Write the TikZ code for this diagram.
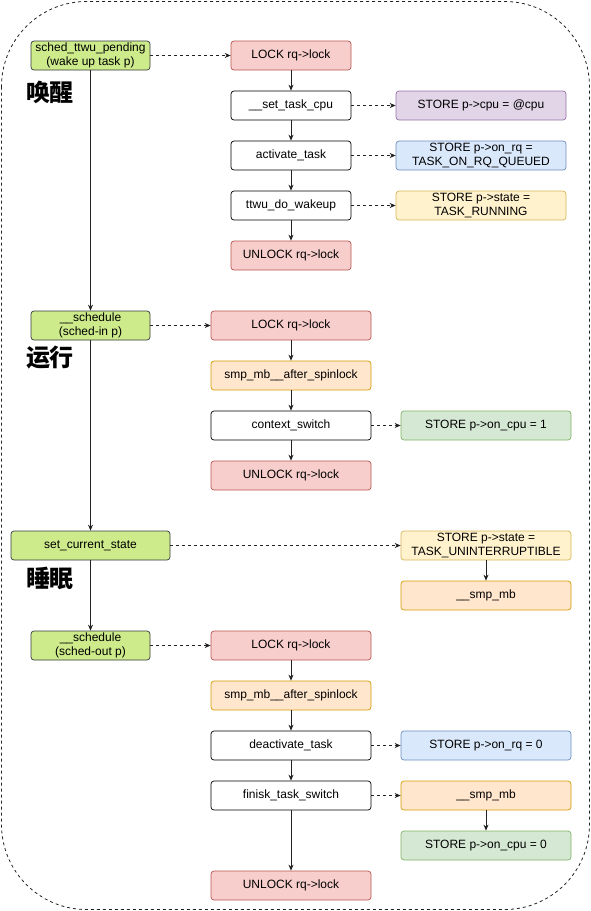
\documentclass[tikz,border=0pt]{standalone}
\usepackage{fontspec}
\setmainfont{Liberation Sans}
\newfontfamily\cjk{Noto Sans CJK SC}
\usetikzlibrary{arrows.meta}
\definecolor{cGreen}{HTML}{CDEB8B}\definecolor{cGreenD}{HTML}{36393D}
\definecolor{cRed}{HTML}{F8CECC}\definecolor{cRedD}{HTML}{B85450}
\definecolor{cPurp}{HTML}{E1D5E7}\definecolor{cPurpD}{HTML}{9673A6}
\definecolor{cBlue}{HTML}{DAE8FC}\definecolor{cBlueD}{HTML}{6C8EBF}
\definecolor{cYel}{HTML}{FFF2CC}\definecolor{cYelD}{HTML}{D6B656}
\definecolor{cOra}{HTML}{FFE6CC}\definecolor{cOraD}{HTML}{D79B00}
\definecolor{cLGr}{HTML}{D5E8D4}\definecolor{cLGrD}{HTML}{82B366}
\definecolor{cLine}{HTML}{222222}
\tikzset{
  box/.style={draw, rounded corners=3pt, minimum height=29pt, align=center,
    font=\fontsize{12}{13.5}\selectfont, inner sep=1pt, line width=0.7pt, text=black},
  gbox/.style={box, fill=cGreen, draw=cGreenD, minimum width=119pt},
  rbox/.style={box, fill=cRed, draw=cRedD},
  pbox/.style={box, fill=cPurp, draw=cPurpD},
  bbox/.style={box, fill=cBlue, draw=cBlueD},
  ybox/.style={box, fill=cYel, draw=cYelD},
  obox/.style={box, fill=cOra, draw=cOraD},
  lbox/.style={box, fill=cLGr, draw=cLGrD},
  wbox/.style={box, fill=white, draw=black},
  nar/.style={minimum width=120pt},
  mid/.style={minimum width=160pt},
  rgt/.style={minimum width=170pt},
  arr/.style={draw=cLine, line width=0.8pt, -{Stealth[length=6pt,width=5pt]}},
  darr/.style={arr, dashed, dash pattern=on 3pt off 3pt},
  ttl/.style={font=\cjk\bfseries\fontsize{24}{26}\selectfont}
}
\begin{document}
\begin{tikzpicture}[x=1pt,y=-1pt]
\useasboundingbox (0,0) rectangle (591,911);
\draw[draw=cLine, line width=0.8pt, dash pattern=on 3pt off 3pt, rounded corners=85pt] (1.5,1.5) rectangle (589.5,909.5);

% section 1
\node[gbox] (stp) at (90.5,55.5) {sched\_ttwu\_pending\\(wake up task p)};
\node[ttl] (t1) at (50,92) {唤醒};
\node[rbox,nar] (l1) at (291,55.5) {LOCK rq->lock};
\node[wbox,nar] (stc) at (291,105.5) {\_\_set\_task\_cpu};
\node[wbox,nar] (act) at (291,155.5) {activate\_task};
\node[wbox,nar] (tdw) at (291,205.5) {ttwu\_do\_wakeup};
\node[rbox,nar] (u1) at (291,255.5) {UNLOCK rq->lock};
\node[pbox,rgt] (s1) at (481,105.5) {STORE p->cpu = @cpu};
\node[bbox,rgt] (s2) at (481,155.5) {STORE p->on\_rq =\\TASK\_ON\_RQ\_QUEUED};
\node[ybox,rgt] (s3) at (481,205.5) {STORE p->state =\\TASK\_RUNNING};

% section 2
\node[gbox] (sin) at (90.5,325.5) {\_\_schedule\\(sched-in p)};
\node[ttl] (t2) at (50,358) {运行};
\node[rbox,mid] (l2) at (291,325.5) {LOCK rq->lock};
\node[obox,mid] (mb2) at (291,375.5) {smp\_mb\_\_after\_spinlock};
\node[wbox,mid] (cs) at (291,425.5) {context\_switch};
\node[rbox,mid] (u2) at (291,475.5) {UNLOCK rq->lock};
\node[lbox,rgt] (s4) at (486,425.5) {STORE p->on\_cpu = 1};

% section 3
\node[gbox,minimum width=159pt] (scs) at (90.5,545.5) {set\_current\_state};
\node[ttl] (t3) at (50,578) {睡眠};
\node[ybox,rgt] (s5) at (486,545.5) {STORE p->state =\\TASK\_UNINTERRUPTIBLE};
\node[obox,rgt] (smb1) at (486,595.5) {\_\_smp\_mb};

% section 4
\node[gbox] (sout) at (90.5,645.5) {\_\_schedule\\(sched-out p)};
\node[rbox,mid] (l3) at (291,645.5) {LOCK rq->lock};
\node[obox,mid] (mb3) at (291,695.5) {smp\_mb\_\_after\_spinlock};
\node[wbox,mid] (dt) at (291,745.5) {deactivate\_task};
\node[wbox,mid] (fts) at (291,795.5) {finisk\_task\_switch};
\node[rbox,mid] (u3) at (291,885.5) {UNLOCK rq->lock};
\node[bbox,rgt] (s6) at (486,745.5) {STORE p->on\_rq = 0};
\node[obox,rgt] (smb2) at (486,795.5) {\_\_smp\_mb};
\node[lbox,rgt] (s7) at (486,845.5) {STORE p->on\_cpu = 0};

% connectors
\draw[darr] (stp) -- (l1);
\draw[arr] (l1) -- (stc);
\draw[arr] (stc) -- (act);
\draw[arr] (act) -- (tdw);
\draw[arr] (tdw) -- (u1);
\draw[darr] (stc) -- (s1);
\draw[darr] (act) -- (s2);
\draw[darr] (tdw) -- (s3);
\draw[arr] (stp) -- (sin);

\draw[darr] (sin) -- (l2);
\draw[arr] (l2) -- (mb2);
\draw[arr] (mb2) -- (cs);
\draw[arr] (cs) -- (u2);
\draw[darr] (cs) -- (s4);
\draw[arr] (sin) -- (scs);

\draw[darr] (scs) -- (s5);
\draw[arr] (s5) -- (smb1);
\draw[arr] (scs) -- (sout);

\draw[darr] (sout) -- (l3);
\draw[arr] (l3) -- (mb3);
\draw[arr] (mb3) -- (dt);
\draw[arr] (dt) -- (fts);
\draw[arr] (fts) -- (u3);
\draw[darr] (dt) -- (s6);
\draw[darr] (fts) -- (smb2);
\draw[arr] (smb2) -- (s7);
\end{tikzpicture}
\end{document}
